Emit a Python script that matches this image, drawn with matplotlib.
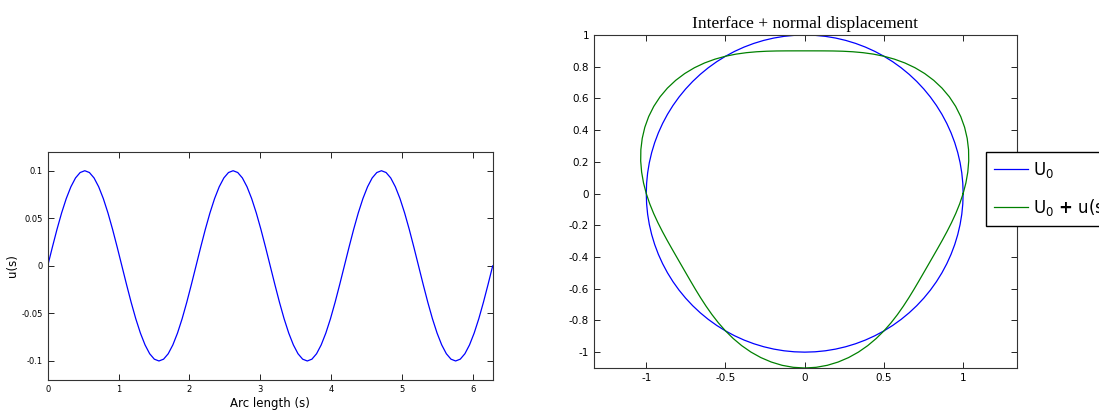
import numpy as np
import matplotlib.pyplot as plt

# arc length samples (step pi/48) and normal displacement
s = np.linspace(0, 2*np.pi, 97)
u = [0, 0.0195, 0.0383, 0.0556, 0.0707, 0.0831, 0.0924, 0.0981, 0.1, 0.0981, 0.0924, 0.0831, 0.0707, 0.0556, 0.0383, 0.0195,
     0, -0.0195, -0.0383, -0.0556, -0.0707, -0.0831, -0.0924, -0.0981, -0.1, -0.0981, -0.0924, -0.0831, -0.0707, -0.0556, -0.0383, -0.0195,
     0, 0.0195, 0.0383, 0.0556, 0.0707, 0.0831, 0.0924, 0.0981, 0.1, 0.0981, 0.0924, 0.0831, 0.0707, 0.0556, 0.0383, 0.0195,
     0, -0.0195, -0.0383, -0.0556, -0.0707, -0.0831, -0.0924, -0.0981, -0.1, -0.0981, -0.0924, -0.0831, -0.0707, -0.0556, -0.0383, -0.0195,
     0, 0.0195, 0.0383, 0.0556, 0.0707, 0.0831, 0.0924, 0.0981, 0.1, 0.0981, 0.0924, 0.0831, 0.0707, 0.0556, 0.0383, 0.0195,
     0, -0.0195, -0.0383, -0.0556, -0.0707, -0.0831, -0.0924, -0.0981, -0.1, -0.0981, -0.0924, -0.0831, -0.0707, -0.0556, -0.0383, -0.0195,
     0]
u = np.array(u)
r0 = np.ones_like(u)   # interface U_0: unit circle

x0 = r0*np.cos(s)
y0 = r0*np.sin(s)
x1 = (r0+u)*np.cos(s)
y1 = (r0+u)*np.sin(s)

W, H = 1099, 413
fig = plt.figure(figsize=(W/100, H/100), dpi=100)

ax = fig.add_axes([47.7/W, 1-380/H, 445/W, 228.3/H])
ax.plot(s, u, color='b', lw=0.9)
ax.set_xlim(0, 2*np.pi)
ax.set_ylim(-0.12, 0.12)
ax.set_xticks([0, 1, 2, 3, 4, 5, 6])
ax.set_xticklabels(['0', '1', '2', '3', '4', '5', '6'])
ax.set_yticks([-0.1, -0.05, 0, 0.05, 0.1])
ax.set_yticklabels(['-0.1', '-0.05', '0', '0.05', '0.1'])
ax.tick_params(direction='in', top=True, right=True, labelsize=6, length=4, width=0.6)
ax.set_xlabel('Arc length (s)', fontsize=8.5, labelpad=2)
ax.set_ylabel('u(s)', fontsize=8.5, labelpad=2)
for sp in ax.spines.values():
    sp.set_linewidth(0.8)
    sp.set_color('#333333')

ax2 = fig.add_axes([594/W, 1-368/H, 423/W, 333/H])
ax2.plot(x0, y0, color='b', lw=0.9, label='U$_0$')
ax2.plot(x1, y1, color='g', lw=0.9, label='U$_0$ $\\mathbf{+}$ u(s)')
ax2.set_xlim(-1.33, 1.34)
ax2.set_ylim(-1.1, 1)
ax2.set_xticks([-1, -0.5, 0, 0.5, 1])
ax2.set_xticklabels(['-1', '-0.5', '0', '0.5', '1'])
ax2.set_yticks([-1, -0.8, -0.6, -0.4, -0.2, 0, 0.2, 0.4, 0.6, 0.8, 1])
ax2.set_yticklabels(['-1', '-0.8', '-0.6', '-0.4', '-0.2', '0', '0.2', '0.4', '0.6', '0.8', '1'])
ax2.tick_params(direction='in', top=True, right=True, labelsize=7.5, length=4, width=0.6)
ax2.set_title('Interface + normal displacement', fontsize=12.5, family='Liberation Serif', pad=5)
for sp in ax2.spines.values():
    sp.set_linewidth(0.8)
    sp.set_color('#333333')

fig.legend(loc='upper left', bbox_to_anchor=(986/W, 1-152/H), borderaxespad=0,
           fontsize=12, fancybox=False, edgecolor='k', framealpha=1,
           handlelength=2.0, handletextpad=0.3, labelspacing=1.0, borderpad=0.5)

fig.savefig('out.png', dpi=100)
